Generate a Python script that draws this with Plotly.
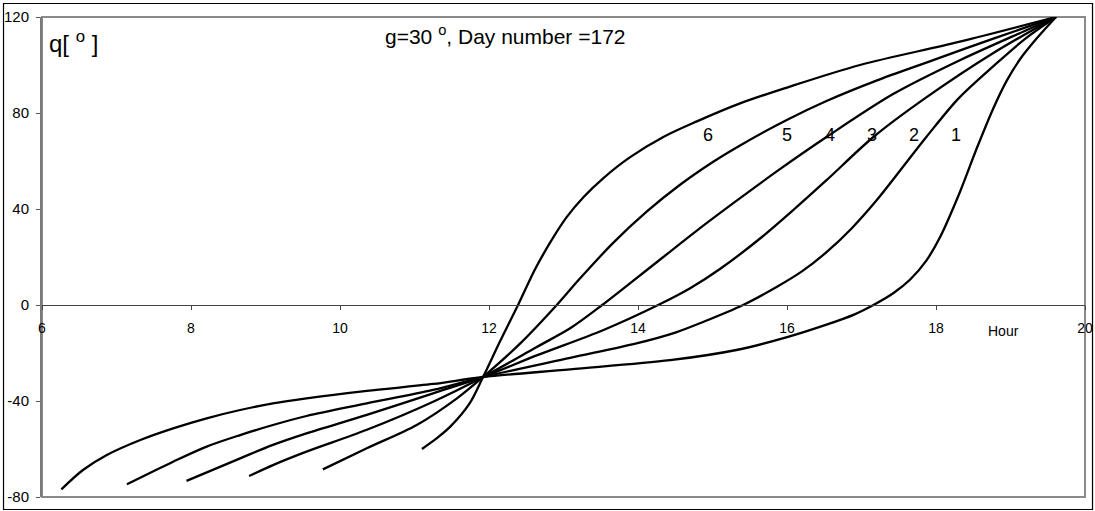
import plotly.graph_objects as go

# ---- data ----
hour_1 = [6.26, 6.55, 6.87, 7.32, 7.76, 8.21, 8.66, 9.1, 9.55, 10.36, 11.25, 11.92, 13.09, 14.43, 15.32, 15.99, 16.53, 16.9, 17.16, 17.43, 17.65, 17.87, 18.05, 18.32, 18.55, 18.77, 18.95, 19.13, 19.35, 19.61]
theta_1 = [-76.8, -68.75, -62.5, -56.25, -51.4, -47.2, -43.75, -41, -38.9, -35.8, -32.9, -30, -26.8, -23.0, -18.75, -13.5, -8.2, -4, 0, 5, 10.5, 18.5, 28, 47, 65.5, 82, 93.5, 102.5, 111, 120]

hour_2 = [7.14, 7.76, 8.21, 8.66, 9.1, 9.55, 10.36, 11.25, 11.92, 13.09, 13.98, 14.5, 14.88, 15.41, 15.86, 16.2, 16.53, 16.87, 17.2, 17.87, 18.3, 18.77, 19.2, 19.61]
theta_2 = [-74.7, -65.3, -59, -54.2, -50, -46.25, -41, -35.4, -30, -22, -16, -11.5, -7, 0, 7.5, 14, 22, 32, 43.5, 70, 86, 99.5, 111, 120]

hour_3 = [7.94, 8.66, 9.1, 9.55, 10.36, 11.25, 11.92, 12.64, 13.53, 14.27, 14.7, 15.1, 15.63, 16.1, 16.53, 17.16, 17.87, 18.77, 19.61]
theta_3 = [-73.3, -63.9, -58.3, -53.5, -45.8, -36.8, -30, -21, -10.5, 0, 7, 15, 27.5, 40, 52, 70, 86.5, 105, 120]

hour_4 = [8.78, 9.1, 9.55, 10.36, 11.25, 11.92, 12.64, 13.1, 13.52, 13.87, 14.34, 14.79, 15.37, 15.9, 16.53, 17.43, 18.32, 19.22, 19.61]
theta_4 = [-71.25, -66.7, -61.1, -52, -40.3, -30, -17.5, -9.5, 0, 8.5, 20, 31, 44.5, 56.5, 70, 88, 102, 114.6, 120]

hour_5 = [9.77, 10.36, 11.03, 11.57, 11.92, 12.42, 12.91, 13.22, 13.67, 14.12, 14.56, 15.01, 15.37, 15.99, 16.53, 17.2, 17.87, 18.77, 19.61]
theta_5 = [-68.5, -59.7, -50, -38.9, -30, -16, 0, 11, 26, 39, 50, 59.7, 66.5, 77, 85, 93.5, 101, 111, 120]

hour_6 = [11.1, 11.3, 11.48, 11.74, 11.92, 12.15, 12.39, 12.62, 12.84, 13.04, 13.27, 13.54, 13.89, 14.34, 14.79, 15.37, 15.99, 16.98, 18.32, 19.61]
theta_6 = [-60, -55.5, -50.7, -41, -30, -15, 0, 15, 27, 36.5, 45, 53, 61.5, 70, 76.5, 84, 90.5, 100, 109.7, 120]

curve_labels = ["1", "2", "3", "4", "5", "6"]
label_hours = [18.27, 17.70, 17.14, 16.58, 16.0, 14.94]
label_theta = [70.8, 70.8, 70.8, 70.8, 70.8, 70.8]

x_ticks = [6, 8, 10, 12, 14, 16, 18, 20]
y_ticks = [-80, -40, 0, 40, 80, 120]

title_text = "g=30 <sup>o</sup>, Day number =172"
y_title = "q[ <sup>o</sup> ]"
x_title = "Hour"

FONT = "Liberation Sans, Arial, sans-serif"

fig = go.Figure()
series = [(hour_1, theta_1), (hour_2, theta_2), (hour_3, theta_3),
          (hour_4, theta_4), (hour_5, theta_5), (hour_6, theta_6)]
for (hx, ty), name in zip(series, curve_labels):
    fig.add_trace(go.Scatter(x=hx, y=ty, mode="lines", name=name,
                             line=dict(color="black", width=2.3, shape="spline", smoothing=0.9),
                             hoverinfo="skip", showlegend=False))

for lab, lx, ly in zip(curve_labels, label_hours, label_theta):
    fig.add_annotation(x=lx, y=ly, text=lab, showarrow=False,
                       font=dict(family=FONT, size=18, color="black"),
                       xanchor="center", yanchor="middle")

fig.add_annotation(x=10.58, y=112.3, text=title_text, showarrow=False,
                   font=dict(family=FONT, size=21, color="black"),
                   xanchor="left", yanchor="middle")
fig.add_annotation(x=6.07, y=109.5, text=y_title, showarrow=False,
                   font=dict(family=FONT, size=24, color="black"),
                   xanchor="left", yanchor="middle")
fig.add_annotation(x=18.9, y=-10.8, text=x_title, showarrow=False,
                   font=dict(family=FONT, size=14, color="black"),
                   xanchor="center", yanchor="middle")

# plot-area gray frame
fig.add_shape(type="rect", xref="paper", yref="paper", x0=0, x1=1, y0=0, y1=1,
              line=dict(color="#8a8a8a", width=2), layer="below")
# outer black frame
fig.add_shape(type="rect", xref="paper", yref="paper",
              x0=-0.0369, x1=1.0072, y0=-0.0260, y1=1.0281,
              line=dict(color="black", width=1.2))

fig.update_layout(
    width=1095, height=511,
    margin=dict(l=42, r=10, t=17, b=14, autoexpand=False),
    paper_bgcolor="white", plot_bgcolor="white",
    font=dict(family=FONT, color="black"),
    xaxis=dict(range=[6, 20], tickvals=x_ticks, ticktext=[str(v) for v in x_ticks],
               showgrid=False, zeroline=False, anchor="free", position=0.4,
               showline=True, linecolor="#444444", linewidth=1,
               ticks="outside", ticklen=4, tickcolor="#444444", tickwidth=1,
               tickfont=dict(family=FONT, size=14, color="black"),
               ticklabelstandoff=6, automargin=False),
    yaxis=dict(range=[-80, 120], tickvals=y_ticks, ticktext=[str(v) for v in y_ticks],
               showgrid=False, zeroline=False,
               showline=True, linecolor="#7a7a7a", linewidth=2,
               ticks="outside", ticklen=4, tickcolor="#555555", tickwidth=1,
               tickfont=dict(family=FONT, size=15, color="black"),
               ticklabelstandoff=4, automargin=False),
)

fig.write_html("out.html")
